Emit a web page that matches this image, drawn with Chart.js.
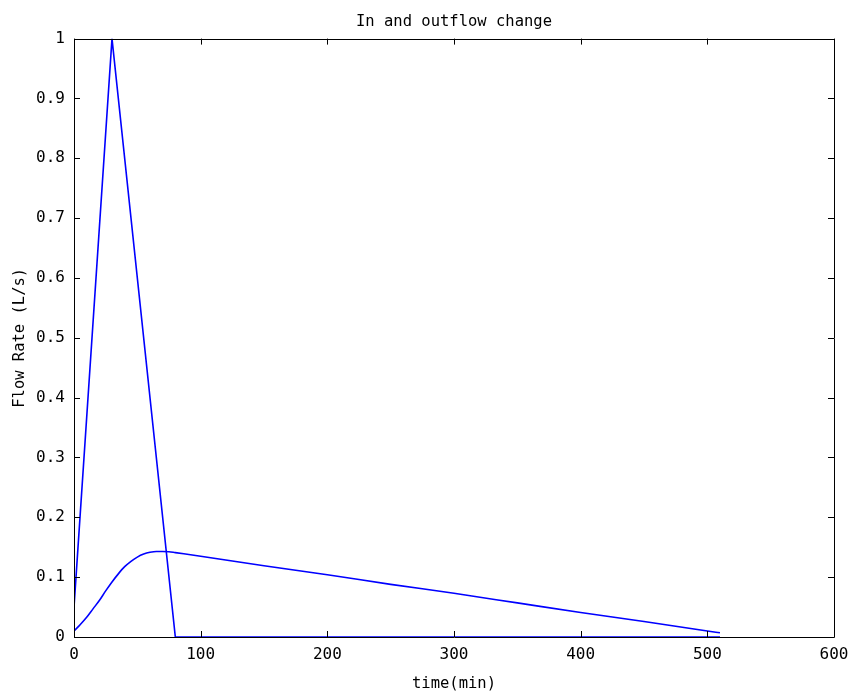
<!DOCTYPE html>
<html lang="en">
<head>
    <meta charset="UTF-8">
    <title>In and outflow change</title>
    <script src="https://cdn.jsdelivr.net/npm/chart.js"></script>
    <style>
        body {
            margin: 0;
            padding: 0;
            background: #fff;
        }

        .chart-container {
            width: 851px;
            height: 696px;
        }
    </style>
</head>
<body>

    <div class="chart-container">
        <canvas id="flowChart"></canvas>
    </div>

    <script>
        // Inflow: triangular hydrograph (time in min, flow in L/s)
        const inflowTime = [0, 30, 80, 510];
        const inflowRate = [0.05, 1.0, 0.0, 0.0];

        // Outflow: attenuated response
        const outflowTime = [0, 5, 10, 15, 20, 25, 30, 35, 40, 45, 50, 55, 60, 65, 70, 75, 80, 100, 150, 200, 250, 300, 350, 400, 450, 500, 510];
        const outflowRate = [0.010, 0.021, 0.033, 0.047, 0.061, 0.077, 0.092, 0.1055, 0.1175, 0.1265, 0.1335, 0.1385, 0.1415, 0.143, 0.143, 0.1425, 0.141, 0.135, 0.119, 0.104, 0.088, 0.073, 0.057, 0.041, 0.026, 0.010, 0.007];

        const xTicks = [0, 100, 200, 300, 400, 500, 600];
        const yTicks = [0, 0.1, 0.2, 0.3, 0.4, 0.5, 0.6, 0.7, 0.8, 0.9, 1];

        const toPoints = (xs, ys) => xs.map((x, i) => ({ x: x, y: ys[i] }));

        const FONT = "'DejaVu Sans Mono', monospace";

        // Box around the axes and inward ticks, matlab style
        const boxTicks = {
            id: 'boxTicks',
            afterDraw(chart) {
                const ctx = chart.ctx;
                const a = chart.chartArea;
                const xs = chart.scales.x;
                const ys = chart.scales.y;
                const len = 6;
                ctx.save();
                ctx.strokeStyle = '#000';
                ctx.lineWidth = 1;
                ctx.beginPath();
                ctx.rect(Math.round(a.left) + 0.5, Math.round(a.top) + 0.5,
                         Math.round(a.right - a.left), Math.round(a.bottom - a.top));
                xTicks.forEach(v => {
                    const px = Math.round(xs.getPixelForValue(v)) + 0.5;
                    ctx.moveTo(px, a.bottom);
                    ctx.lineTo(px, a.bottom - len);
                    ctx.moveTo(px, a.top);
                    ctx.lineTo(px, a.top + len);
                });
                yTicks.forEach(v => {
                    const py = Math.round(ys.getPixelForValue(v)) + 0.5;
                    ctx.moveTo(a.left, py);
                    ctx.lineTo(a.left + len, py);
                    ctx.moveTo(a.right, py);
                    ctx.lineTo(a.right - len, py);
                });
                ctx.stroke();
                ctx.restore();
            }
        };

        const ctx = document.getElementById('flowChart').getContext('2d');
        new Chart(ctx, {
            type: 'line',
            data: {
                datasets: [
                    {
                        label: 'Inflow',
                        data: toPoints(inflowTime, inflowRate),
                        borderColor: '#0000ff',
                        borderWidth: 1.6,
                        pointRadius: 0,
                        tension: 0,
                        fill: false
                    },
                    {
                        label: 'Outflow',
                        data: toPoints(outflowTime, outflowRate),
                        borderColor: '#0000ff',
                        borderWidth: 1.6,
                        pointRadius: 0,
                        cubicInterpolationMode: 'monotone',
                        fill: false
                    }
                ]
            },
            options: {
                responsive: true,
                maintainAspectRatio: false,
                animation: false,
                layout: {
                    padding: { left: 0, right: 17, top: 0, bottom: 0 }
                },
                plugins: {
                    legend: { display: false },
                    tooltip: { enabled: false },
                    title: {
                        display: true,
                        fullSize: false,
                        text: 'In and outflow change',
                        color: '#000',
                        font: { family: FONT, size: 15.5, weight: 'normal' },
                        padding: { top: 13, bottom: 7 }
                    }
                },
                scales: {
                    x: {
                        type: 'linear',
                        min: 0,
                        max: 600,
                        grid: { display: false, drawTicks: false },
                        border: { display: false },
                        ticks: {
                            stepSize: 100,
                            color: '#000',
                            padding: 8,
                            maxRotation: 0,
                            font: { family: FONT, size: 16 }
                        },
                        title: {
                            display: true,
                            text: 'time(min)',
                            color: '#000',
                            padding: { top: 5, bottom: 3 },
                            font: { family: FONT, size: 15.5 }
                        },
                        afterFit: s => {
                            s.height = 59;
                            s.paddingLeft = 0;
                            s.paddingRight = 0;
                        }
                    },
                    y: {
                        min: 0,
                        max: 1,
                        grid: { display: false, drawTicks: false },
                        border: { display: false },
                        ticks: {
                            stepSize: 0.1,
                            color: '#000',
                            padding: 9,
                            font: { family: FONT, size: 16 },
                            callback: v => +v.toFixed(1)
                        },
                        title: {
                            display: true,
                            text: 'Flow Rate (L/s)',
                            color: '#000',
                            padding: { top: 11, bottom: 4 },
                            font: { family: FONT, size: 15.5 }
                        },
                        afterFit: s => { s.width = 74; }
                    }
                }
            },
            plugins: [boxTicks]
        });
    </script>

</body>
</html>
